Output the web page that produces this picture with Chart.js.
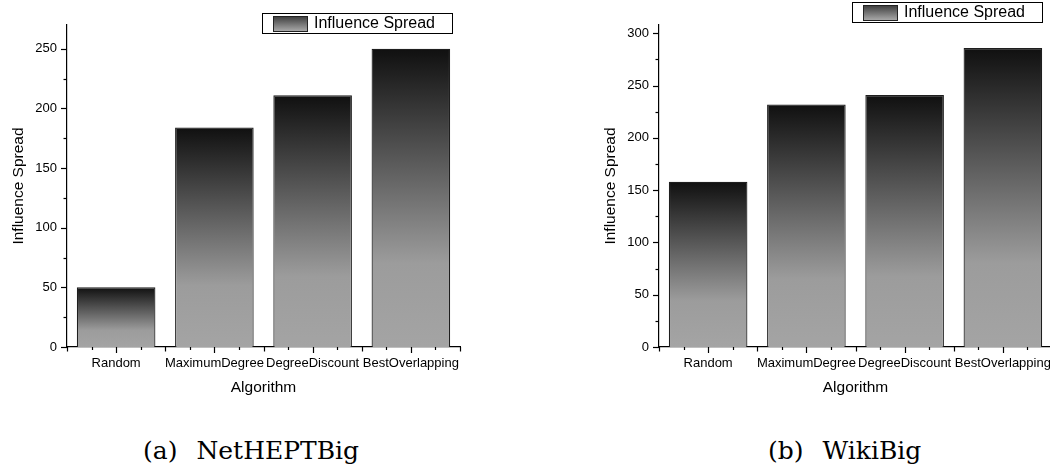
<!DOCTYPE html>
<html>
<head>
<meta charset="utf-8">
<script src="https://cdn.jsdelivr.net/npm/chart.js@4.4.0/dist/chart.umd.min.js"></script>
<style>
  html, body { margin: 0; padding: 0; background: #fff; }
  body { width: 1050px; height: 467px; position: relative; overflow: hidden; }
  canvas { position: absolute; top: 0; }
  .cap { position: absolute; top: 438px; font-family: "DejaVu Serif", "Liberation Serif", serif; font-size: 25px; line-height: 25px; color: #000; white-space: nowrap; }
  .cap span { margin-right: 19px; }
</style>
</head>
<body>
<canvas id="graficoA" width="480" height="420" style="left:0px"></canvas>
<canvas id="graficoB" width="480" height="420" style="left:592px"></canvas>
<div class="cap" style="left:143px"><span>(a)</span>NetHEPTBig</div>
<div class="cap" style="left:768px"><span>(b)</span>WikiBig</div>
<script>
const algorithms = ["Random", "MaximumDegree", "DegreeDiscount", "BestOverlapping"];
const netheptSpread = [50, 184, 211, 250];
const wikiSpread = [158, 232, 241, 286];
const netheptMax = 270;
const wikiMax = 308;
const seriesName = "Influence Spread";

const fonte = '"Liberation Sans", Arial, sans-serif';

function gradiente(c, top, bottom) {
  const g = c.createLinearGradient(0, top, 0, bottom);
  g.addColorStop(0, "#101010");
  g.addColorStop(0.72, "#9c9c9c");
  g.addColorStop(1, "#a4a4a4");
  return g;
}

// bar fill: gradient from top of each bar down to zero
function barFill(context) {
  const chart = context.chart;
  if (!chart.chartArea || context.raw == null) return "#888";
  const y = chart.scales.y;
  return gradiente(chart.ctx, y.getPixelForValue(context.raw), y.getPixelForValue(0));
}

// legend box + tick marks drawn by hand (Origin-style)
const origemPlugin = {
  id: "origem",
  afterDraw(chart, args, opts) {
    const c = chart.ctx;
    const { left, right, bottom } = chart.chartArea;
    c.save();
    c.strokeStyle = "#000";
    c.lineWidth = 1.2;
    // x ticks
    const n = chart.data.labels.length;
    const w = (right - left) / n;
    for (let i = 0; i <= n * 4; i++) {
      const x = Math.round(left + (i * w) / 4) + 0.5;
      const len = i % 4 === 0 ? 4.5 : i % 4 === 2 ? 6 : 3;
      c.beginPath();
      c.moveTo(x, bottom);
      c.lineTo(x, bottom + len);
      c.stroke();
    }
    // y ticks
    const ys = chart.scales.y;
    ys.ticks.forEach((t) => {
      const y = Math.round(ys.getPixelForValue(t.value)) + 0.5;
      const len = t.value % 50 === 0 ? 6 : 3.5;
      c.beginPath();
      c.moveTo(left, y);
      c.lineTo(left - len, y);
      c.stroke();
    });
    // legend
    const lx = opts.x, ly = opts.y;
    c.fillStyle = "#fff";
    c.fillRect(lx, ly, 190, 20);
    c.lineWidth = 1;
    c.strokeRect(lx + 0.5, ly + 0.5, 190, 20);
    const g = c.createLinearGradient(0, ly + 3, 0, ly + 18);
    g.addColorStop(0, "#3a3a3a");
    g.addColorStop(1, "#a8a8a8");
    c.fillStyle = g;
    c.fillRect(lx + 11, ly + 3, 35, 15.5);
    c.strokeStyle = "#222";
    c.strokeRect(lx + 11.5, ly + 3.5, 34, 15);
    c.fillStyle = "#000";
    c.font = "16px " + fonte;
    c.textBaseline = "middle";
    c.textAlign = "left";
    c.fillText(seriesName, lx + 52, ly + 11);
    c.restore();
  },
};

function criarGrafico(id, valores, maximo, legenda) {
  return new Chart(document.getElementById(id).getContext("2d"), {
    type: "bar",
    data: {
      labels: algorithms,
      datasets: [
        {
          label: seriesName,
          data: valores,
          backgroundColor: barFill,
          borderColor: "#1e1e1e",
          borderWidth: 1.2,
          borderSkipped: "bottom",
          barPercentage: 0.8,
          categoryPercentage: 1.0,
        },
      ],
    },
    options: {
      responsive: false,
      animation: false,
      events: [],
      layout: { padding: { left: 0, top: 25, right: 20, bottom: 0 } },
      plugins: {
        legend: { display: false },
        tooltip: { enabled: false },
        origem: legenda,
      },
      scales: {
        x: {
          grid: { display: false, drawTicks: false },
          border: { display: true, color: "#000", width: 1.2 },
          ticks: { color: "#000", padding: 9, maxRotation: 0, autoSkip: false, font: { family: fonte, size: 13 } },
          title: { display: true, text: "Algorithm", color: "#000", padding: { top: 0, bottom: 23 }, font: { family: fonte, size: 15.5 } },
          afterFit: (s) => { s.height = 73; },
        },
        y: {
          min: 0,
          max: maximo,
          grid: { display: false, drawTicks: false },
          border: { display: true, color: "#000", width: 1.2 },
          afterBuildTicks: (s) => {
            const t = [];
            for (let v = 0; v <= maximo; v += 25) t.push({ value: v });
            s.ticks = t;
          },
          ticks: {
            color: "#000",
            padding: 10,
            font: { family: fonte, size: 13 },
            callback: (v) => (v % 50 === 0 ? String(v) : ""),
          },
          title: { display: true, text: "Influence Spread", color: "#000", padding: { top: 9, bottom: 0 }, font: { family: fonte, size: 15.5 } },
          afterFit: (s) => { s.width = 67; },
        },
      },
    },
    plugins: [origemPlugin],
  });
}

criarGrafico("graficoA", netheptSpread, netheptMax, { x: 262, y: 13 });
criarGrafico("graficoB", wikiSpread, wikiMax, { x: 260, y: 2 });
</script>
</body>
</html>
